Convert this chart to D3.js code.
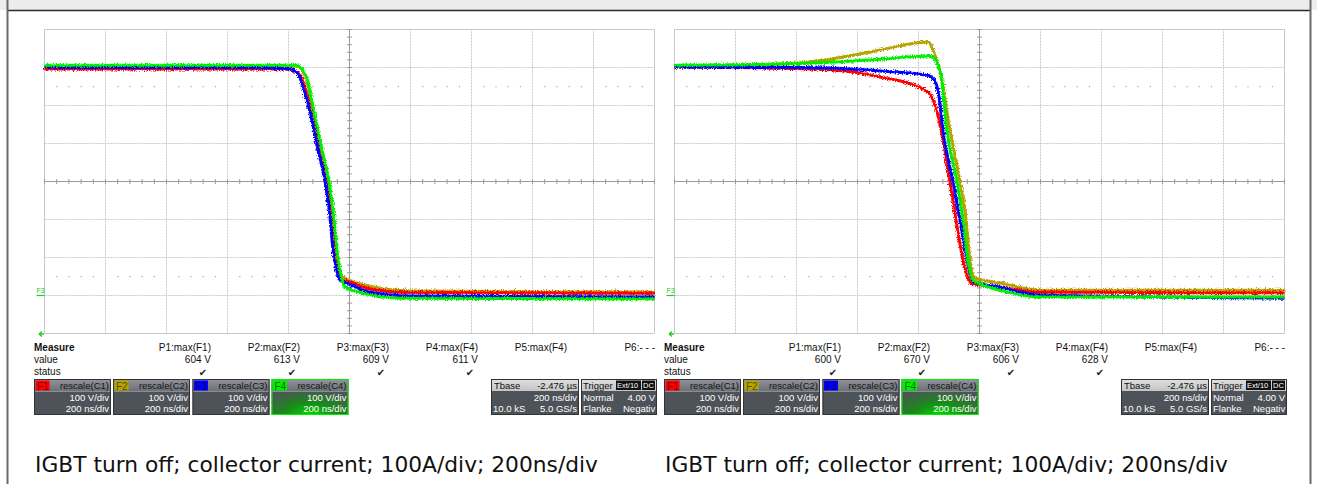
<!DOCTYPE html>
<html><head><meta charset="utf-8">
<script src="https://cdn.jsdelivr.net/npm/d3@7"></script>
<style>body{margin:0;background:#fff;} svg{display:block;}</style>
</head><body><svg id="c" width="1317" height="484" font-family="Liberation Sans, Arial, sans-serif"></svg>
<script>
// ---------- data ----------
const timeDomain = [0, 2000];      // ns, 200 ns/div, 10 div
const voltDomain = [-100, 700];    // V, 100 V/div, 8 div
const refLevels = [550, 50];       // dotted level markers (V)
const channelNames = ["F1", "F2", "F3", "F4"];
const channelColors = ["#ff0000", "#b5a300", "#0000ff", "#00ee00"];
const boxScales = ["rescale(C1)", "rescale(C2)", "rescale(C3)", "rescale(C4)"];
const boxVdiv = ["100 V/div", "100 V/div", "100 V/div", "100 V/div"];
const boxTdiv = ["200 ns/div", "200 ns/div", "200 ns/div", "200 ns/div"];
const measureLabels = ["P1:max(F1)", "P2:max(F2)", "P3:max(F3)", "P4:max(F4)", "P5:max(F4)", "P6:- - -"];
const leftValues = ["604 V", "613 V", "609 V", "611 V"];
const rightValues = ["600 V", "670 V", "606 V", "628 V"];
const caption = "IGBT turn off; collector current; 100A/div; 200ns/div";

// left screen: [time ns, volts]
const left_F1 = [[0,596],[790,596],[835,583],[856,541],[878,470],[900,383],[923,299],[939,207],[949,120],[962,62],[975,40],[998,36],[1065,18],[1198,8],[2000,6]];
const left_F2 = [[0,604],[822,604],[841,597],[861,562],[884,470],[907,383],[930,299],[946,207],[956,120],[969,60],[985,46],[1065,25],[1198,12],[2000,9]];
const left_F3 = [[0,600],[707,600],[805,596],[831,583],[851,541],[874,470],[897,383],[920,299],[936,207],[946,120],[959,62],[972,38],[998,30],[1065,9],[1198,-1],[2000,-4]];
const left_F4 = [[0,606],[825,606],[844,597],[864,562],[887,470],[910,383],[933,299],[949,207],[959,120],[972,54],[985,22],[1018,12],[1166,-7],[2000,-9]];
// right screen
const right_F1 = [[0,601],[346,598],[512,594],[674,575],[821,541],[844,522],[861,483],[874,436],[903,299],[923,199],[946,93],[959,54],[972,33],[1067,22],[1198,9],[2000,7]];
const right_F2 = [[0,604],[346,609],[512,622],[674,646],[831,667],[854,633],[870,594],[903,436],[936,299],[956,199],[969,93],[985,46],[1067,33],[1198,14],[2000,14]];
const right_F3 = [[0,601],[346,600],[512,599],[674,591],[825,580],[851,568],[866,530],[880,436],[913,299],[936,199],[959,93],[979,36],[1067,22],[1198,1],[2000,-7]];
const right_F4 = [[0,606],[346,609],[512,614],[674,622],[838,630],[856,620],[877,560],[893,436],[926,299],[946,199],[962,93],[979,40],[1067,14],[1198,-4],[2000,-4]];

const leftSeries = [left_F1, left_F2, left_F3, left_F4];
const rightSeries = [right_F1, right_F2, right_F3, right_F4];
const drawOrder = [1, 0, 2, 3];

// ---------- drawing ----------
const svg = d3.select("#c");
const defs = svg.append("defs");

const flt = defs.append("filter").attr("id","noise").attr("filterUnits","userSpaceOnUse")
  .attr("x",0).attr("y",0).attr("width",1317).attr("height",484);
flt.append("feTurbulence").attr("type","fractalNoise").attr("baseFrequency","0.9 0.7")
  .attr("numOctaves",1).attr("seed",4).attr("result","t");
flt.append("feDisplacementMap").attr("in","SourceGraphic").attr("in2","t")
  .attr("scale",6).attr("xChannelSelector","R").attr("yChannelSelector","G");

const g1 = defs.append("linearGradient").attr("id","rowTop").attr("x1",0).attr("y1",0).attr("x2",0).attr("y2",1);
g1.append("stop").attr("offset","0%").attr("stop-color","#92959b");
g1.append("stop").attr("offset","100%").attr("stop-color","#6c7077");
const g2 = defs.append("linearGradient").attr("id","rowLight").attr("x1",0).attr("y1",0).attr("x2",0).attr("y2",1);
g2.append("stop").attr("offset","0%").attr("stop-color","#e0e0e0");
g2.append("stop").attr("offset","100%").attr("stop-color","#c4c4c4");
const rg = defs.append("radialGradient").attr("id","glow").attr("cx","50%").attr("cy","100%").attr("r","75%");
rg.append("stop").attr("offset","0%").attr("stop-color","#00d800");
rg.append("stop").attr("offset","45%").attr("stop-color","#1a8a1a");
rg.append("stop").attr("offset","100%").attr("stop-color","#4e5259");

// frame
svg.append("rect").attr("x",0).attr("y",0).attr("width",1317).attr("height",10).attr("fill","#ececec");
svg.append("line").attr("x1",7).attr("x2",1311).attr("y1",10.5).attr("y2",10.5).attr("stroke","#2b2b2b").attr("stroke-width",1.5);
svg.append("line").attr("x1",7.5).attr("x2",7.5).attr("y1",0).attr("y2",484).attr("stroke","#6a6a6a").attr("stroke-width",2);
svg.append("line").attr("x1",1310.5).attr("x2",1310.5).attr("y1",0).attr("y2",484).attr("stroke","#6a6a6a").attr("stroke-width",2);

function panel(ox, series, values) {
  const x = d3.scaleLinear().domain(timeDomain).range([44.5 + ox, 654.5 + ox]);
  const y = d3.scaleLinear().domain(voltDomain).range([333.5, 29.5]);
  const g = svg.append("g");
  const tTicks = d3.range(timeDomain[0], timeDomain[1] + 1, 200);
  const vTicks = d3.range(voltDomain[0], voltDomain[1] + 1, 100);
  // grid
  g.selectAll(".vg").data(tTicks).join("line")
    .attr("x1", d => x(d)).attr("x2", d => x(d)).attr("y1", y(voltDomain[0])).attr("y2", y(voltDomain[1]))
    .attr("stroke", "#c9c9c9").attr("stroke-dasharray", d => (d===timeDomain[0]||d===timeDomain[1]) ? null : "2,1");
  g.selectAll(".hg").data(vTicks).join("line")
    .attr("y1", d => y(d)).attr("y2", d => y(d)).attr("x1", x(timeDomain[0])).attr("x2", x(timeDomain[1]))
    .attr("stroke", "#c9c9c9").attr("stroke-dasharray", d => (d===voltDomain[0]||d===voltDomain[1]) ? null : "2,1");
  // center axes with minor ticks
  const tc = (timeDomain[0] + timeDomain[1]) / 2, vc = (voltDomain[0] + voltDomain[1]) / 2;
  g.append("line").attr("x1", x(tc)).attr("x2", x(tc)).attr("y1", y(voltDomain[0])).attr("y2", y(voltDomain[1])).attr("stroke", "#9a9a9a");
  g.append("line").attr("y1", y(vc)).attr("y2", y(vc)).attr("x1", x(timeDomain[0])).attr("x2", x(timeDomain[1])).attr("stroke", "#9a9a9a");
  const vMinor = d3.range(voltDomain[0], voltDomain[1] + 1, 20);
  const tMinor = d3.range(timeDomain[0], timeDomain[1] + 1, 40);
  g.selectAll(".vm").data(vMinor).join("line")
    .attr("x1", x(tc) - 2.5).attr("x2", x(tc) + 2.5).attr("y1", d => y(d)).attr("y2", d => y(d)).attr("stroke", "#9a9a9a");
  g.selectAll(".tm").data(tMinor).join("line")
    .attr("y1", y(vc) - 2.5).attr("y2", y(vc) + 2.5).attr("x1", d => x(d)).attr("x2", d => x(d)).attr("stroke", "#9a9a9a");
  // dotted reference levels
  refLevels.forEach(lv => {
    g.selectAll(null).data(tMinor.filter(d => d % 200 !== 0)).join("rect")
      .attr("x", d => x(d) - 0.5).attr("y", y(lv) - 0.5).attr("width", 1.2).attr("height", 1.2).attr("fill", "#a8a8a8");
  });
  // markers at left
  g.append("text").attr("x", x(0) - 8).attr("y", y(0) - 3).attr("font-size", 7).attr("fill", "#22cc22").text("F3");
  g.append("line").attr("x1", x(0) - 8).attr("x2", x(0)).attr("y1", y(0)).attr("y2", y(0)).attr("stroke", "#22cc22").attr("stroke-width", 1.2);
  g.append("path").attr("d", `M${x(0)-0.5},${y(voltDomain[0])+0.5} l-5,0 m0,0 l3,-2.5 m-3,2.5 l3,2.5`)
    .attr("stroke", "#22cc22").attr("fill", "none").attr("stroke-width", 1.3);
  // traces
  const line = d3.line().x(d => x(d[0])).y(d => y(d[1])).curve(d3.curveMonotoneX);
  const tg = g.append("g");
  drawOrder.forEach(i => {
    tg.append("path").attr("d", line(series[i])).attr("fill", "none")
      .attr("stroke", channelColors[i]).attr("stroke-width", 1.6);
    tg.append("path").attr("d", line(series[i])).attr("fill", "none")
      .attr("stroke", channelColors[i]).attr("stroke-width", 3).attr("filter", "url(#noise)");
  });

  // measurement table
  const mx = 34 + ox;
  g.append("text").attr("x", mx).attr("y", 351).attr("font-size", 10).attr("font-weight", "bold").attr("fill", "#111").text("Measure");
  g.append("text").attr("x", mx).attr("y", 363).attr("font-size", 10).attr("fill", "#111").text("value");
  g.append("text").attr("x", mx).attr("y", 375).attr("font-size", 10).attr("fill", "#111").text("status");
  const colRight = [211, 300, 389, 478, 567, 655];
  measureLabels.forEach((lab, k) => {
    g.append("text").attr("x", colRight[k] + ox).attr("y", 351).attr("font-size", 10).attr("text-anchor", "end").attr("fill", "#111").text(lab);
  });
  values.forEach((v, k) => {
    g.append("text").attr("x", colRight[k] + ox).attr("y", 363).attr("font-size", 10).attr("text-anchor", "end").attr("fill", "#111").text(v);
    g.append("text").attr("x", colRight[k] + ox - 8).attr("y", 376).attr("font-size", 10).attr("text-anchor", "middle")
      .attr("font-family", "DejaVu Sans").attr("fill", "#222").text("\u2714");
  });

  // channel boxes
  const bx = [34, 113, 192.5, 271.5];
  channelNames.forEach((nm, i) => {
    const X = bx[i] + ox, Y = 379, W = 77, H = 36;
    const bg = g.append("g");
    bg.append("rect").attr("x", X).attr("y", Y).attr("width", W).attr("height", H)
      .attr("fill", i === 3 ? "url(#glow)" : "#4e5259");
    bg.append("rect").attr("x", X).attr("y", Y).attr("width", W).attr("height", 12).attr("fill", "url(#rowTop)");
    bg.append("line").attr("x1", X).attr("x2", X + W).attr("y1", Y + 12.5).attr("y2", Y + 12.5).attr("stroke", "#9a9da3").attr("stroke-width", 0.8);
    bg.append("rect").attr("x", X + 0.5).attr("y", Y + 0.5).attr("width", W - 1).attr("height", H - 1)
      .attr("fill", "none").attr("stroke", i === 3 ? "#00ee00" : "#333");
    bg.append("rect").attr("x", X + 1.5).attr("y", Y + 1.5).attr("width", 14).attr("height", 10).attr("fill", channelColors[i]);
    bg.append("text").attr("x", X + 3).attr("y", Y + 10.5).attr("font-size", 10).attr("fill", "rgba(0,0,0,0.55)").text(nm);
    bg.append("text").attr("x", X + W - 2).attr("y", Y + 9.5).attr("font-size", 9.5).attr("text-anchor", "end").attr("fill", "#151515").text(boxScales[i]);
    bg.append("text").attr("x", X + W - 2).attr("y", Y + 21.5).attr("font-size", 9.5).attr("text-anchor", "end").attr("fill", "#fff").text(boxVdiv[i]);
    bg.append("text").attr("x", X + W - 2).attr("y", Y + 33).attr("font-size", 9.5).attr("text-anchor", "end").attr("fill", "#fff").text(boxTdiv[i]);
  });

  // timebase / trigger boxes
  const cpId = "clip" + ox;
  const TX = 491 + ox, TW = 88, RX = 581 + ox, RW = 76, Y = 379, H = 36;
  defs.append("clipPath").attr("id", cpId).append("rect").attr("x", RX).attr("y", Y).attr("width", RW).attr("height", H);
  [[TX, TW], [RX, RW]].forEach(([bxx, bw]) => {
    g.append("rect").attr("x", bxx).attr("y", Y).attr("width", bw).attr("height", H).attr("fill", "#4e5259");
    g.append("rect").attr("x", bxx).attr("y", Y).attr("width", bw).attr("height", 12).attr("fill", "url(#rowLight)");
    g.append("rect").attr("x", bxx + 0.5).attr("y", Y + 0.5).attr("width", bw - 1).attr("height", H - 1).attr("fill", "none").attr("stroke", "#333");
  });
  const fs = 9.5;
  g.append("text").attr("x", TX + 3).attr("y", Y + 9.5).attr("font-size", fs).attr("fill", "#111").text("Tbase");
  g.append("text").attr("x", TX + TW - 2).attr("y", Y + 9.5).attr("font-size", fs).attr("text-anchor", "end").attr("fill", "#111").text("-2.476 \u00b5s");
  g.append("text").attr("x", TX + TW - 2).attr("y", Y + 21.5).attr("font-size", fs).attr("text-anchor", "end").attr("fill", "#fff").text("200 ns/div");
  g.append("text").attr("x", TX + 2).attr("y", Y + 33).attr("font-size", fs).attr("fill", "#fff").text("10.0 kS");
  g.append("text").attr("x", TX + TW - 2).attr("y", Y + 33).attr("font-size", fs).attr("text-anchor", "end").attr("fill", "#fff").text("5.0 GS/s");
  const tg2 = g.append("g").attr("clip-path", `url(#${cpId})`);
  tg2.append("text").attr("x", RX + 2).attr("y", Y + 9.5).attr("font-size", fs).attr("fill", "#111").text("Trigger");
  tg2.append("rect").attr("x", RX + 35).attr("y", Y + 1.5).attr("width", 25).attr("height", 9.5).attr("fill", "#111");
  tg2.append("text").attr("x", RX + 36).attr("y", Y + 9.3).attr("font-size", 7.5).attr("fill", "#fff").text("Ext/10");
  tg2.append("rect").attr("x", RX + 61).attr("y", Y + 1.5).attr("width", 13).attr("height", 9.5).attr("fill", "#111");
  tg2.append("text").attr("x", RX + 62).attr("y", Y + 9.3).attr("font-size", 7.5).attr("fill", "#fff").text("DC");
  tg2.append("text").attr("x", RX + 2).attr("y", Y + 21.5).attr("font-size", fs).attr("fill", "#fff").text("Normal");
  tg2.append("text").attr("x", RX + RW - 2).attr("y", Y + 21.5).attr("font-size", fs).attr("text-anchor", "end").attr("fill", "#fff").text("4.00 V");
  tg2.append("text").attr("x", RX + 2).attr("y", Y + 33).attr("font-size", fs).attr("fill", "#fff").text("Flanke");
  tg2.append("text").attr("x", RX + 42).attr("y", Y + 33).attr("font-size", fs).attr("fill", "#fff").text("Negativ");

  // caption
  const cap = g.append("text").attr("x", 35 + ox).attr("y", 472).attr("font-family", "DejaVu Sans").attr("font-size", 18).attr("fill", "#111").text(caption);
  const w = cap.node().getComputedTextLength();
  cap.attr("font-size", 18 * 563 / w);
}

panel(0, leftSeries, leftValues);
panel(630, rightSeries, rightValues);
</script></body></html>
